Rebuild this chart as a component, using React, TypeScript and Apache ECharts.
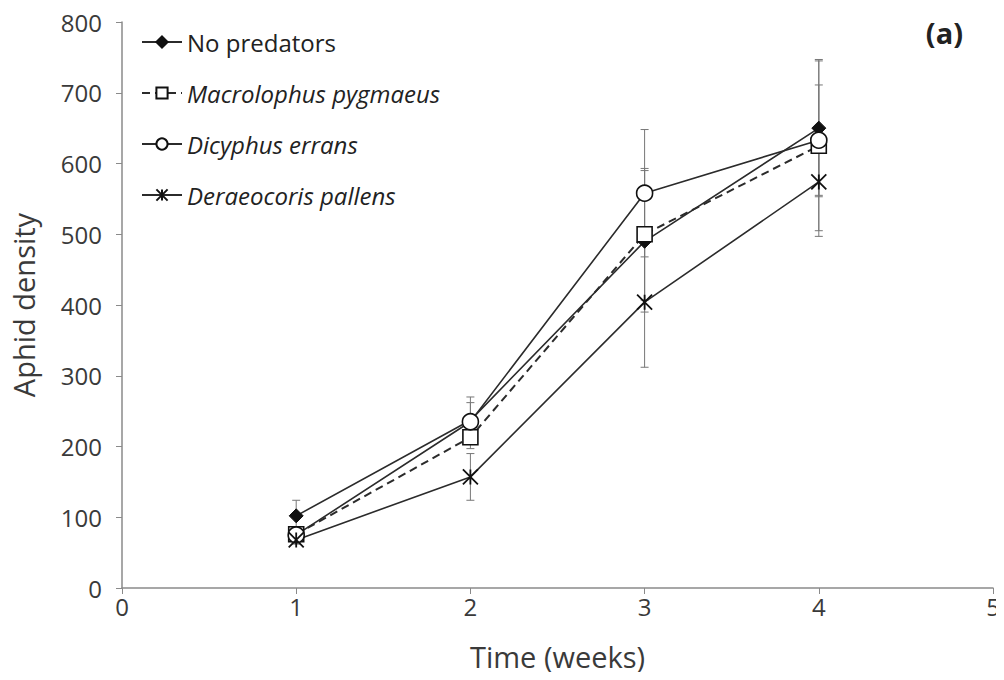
import React, { useEffect, useRef } from "react";
import * as echarts from "echarts";

const weeks = [1, 2, 3, 4];
const seriesNames = ["No predators", "Macrolophus pygmaeus", "Dicyphus errans", "Deraeocoris pallens"];
const noPredators = [102, 237, 490, 650];
const noPredatorsErr = [22, 33, 100, 97];
const macrolophus = [76, 213, 500, 625];
const macrolophusErr = [8, 16, 93, 120];
const dicyphus = [75, 235, 558, 633];
const dicyphusErr = [8, 27, 90, 78];
const deraeocoris = [68, 157, 404, 574];
const deraeocorisErr = [6, 33, 92, 77];
const xTicks = [0, 5, 1];
const yTicks = [0, 800, 100];

const FONT = "Open Sans";
const LINE = "#2b2b2b";
const ASTERISK = "path://M0,0L10,10M10,0L0,10M5,0L5,10";

function errData(vals: number[], errs: number[]) {
  return weeks.map((w, i) => [w, vals[i] - errs[i], vals[i] + errs[i]]);
}

function errSeries(vals: number[], errs: number[]) {
  return {
    type: "custom",
    silent: true,
    z: 1,
    data: errData(vals, errs),
    renderItem: (params: any, api: any) => {
      const x = api.value(0);
      const lo = api.value(1);
      const hi = api.value(2);
      const pHi = api.coord([x, hi]);
      const pLo = api.coord([x, lo]);
      const w = 4;
      const st = { stroke: "#777", lineWidth: 1 };
      return {
        type: "group",
        children: [
          { type: "line", shape: { x1: pHi[0], y1: pHi[1], x2: pLo[0], y2: pLo[1] }, style: st },
          { type: "line", shape: { x1: pHi[0] - w, y1: pHi[1], x2: pHi[0] + w, y2: pHi[1] }, style: st },
          { type: "line", shape: { x1: pLo[0] - w, y1: pLo[1], x2: pLo[0] + w, y2: pLo[1] }, style: st },
        ],
      };
    },
  };
}

function pts(vals: number[]) {
  return weeks.map((w, i) => [w, vals[i]]);
}

export default function App() {
  const ref = useRef<HTMLDivElement>(null);
  useEffect(() => {
    if (!ref.current) return;
    const chart = echarts.init(ref.current, undefined, { renderer: "svg" });
    const axisLabel = { fontFamily: FONT, fontSize: 24, color: "#3a3a3a" };
    chart.setOption({
      animation: false,
      backgroundColor: "#ffffff",
      grid: { left: 122, right: 11, top: 22, bottom: 92 },
      xAxis: {
        type: "value",
        min: xTicks[0],
        max: xTicks[1],
        interval: xTicks[2],
        name: "Time (weeks)",
        nameLocation: "middle",
        nameGap: 54,
        nameTextStyle: { fontFamily: FONT, fontSize: 29, color: "#3a3a3a" },
        axisLine: { lineStyle: { color: "#8a8a8a", width: 1.5 } },
        axisTick: { show: true, length: 6, lineStyle: { color: "#8a8a8a" } },
        axisLabel: { ...axisLabel, margin: 6 },
        splitLine: { show: false },
      },
      yAxis: {
        type: "value",
        min: yTicks[0],
        max: yTicks[1],
        interval: yTicks[2],
        name: "Aphid density",
        nameLocation: "middle",
        nameGap: 84,
        nameRotate: 90,
        nameTextStyle: { fontFamily: FONT, fontSize: 29, color: "#3a3a3a" },
        axisLine: { show: true, lineStyle: { color: "#8a8a8a", width: 1.5 } },
        axisTick: { show: true, length: 6, lineStyle: { color: "#8a8a8a" } },
        axisLabel: { ...axisLabel, margin: 20 },
        splitLine: { show: false },
      },
      legend: {
        orient: "vertical",
        left: 136,
        top: 25,
        itemGap: 27,
        itemWidth: 40,
        itemHeight: 14,
        data: seriesNames,
        formatter: (name: string) => (name === "No predators" ? name : `{i|${name}}`),
        textStyle: {
          fontFamily: FONT,
          fontSize: 24,
          color: "#222",
          rich: { i: { fontFamily: FONT, fontSize: 24, fontStyle: "italic", color: "#222" } },
        },
      },
      graphic: [
        {
          type: "text",
          right: 41,
          top: 18,
          style: { text: "(a)", fontFamily: FONT, fontSize: 29, fontWeight: "bold", fill: "#222" },
        },
      ],
      series: [
        errSeries(noPredators, noPredatorsErr),
        errSeries(macrolophus, macrolophusErr),
        errSeries(dicyphus, dicyphusErr),
        errSeries(deraeocoris, deraeocorisErr),
        {
          name: seriesNames[0],
          type: "line",
          z: 3,
          data: pts(noPredators),
          symbol: "diamond",
          symbolSize: 14,
          lineStyle: { color: LINE, width: 1.6 },
          itemStyle: { color: "#111", borderColor: "#111", borderWidth: 1 },
        },
        {
          name: seriesNames[1],
          type: "line",
          z: 3,
          data: pts(macrolophus),
          symbol: "rect",
          symbolSize: 15,
          lineStyle: { color: LINE, width: 2, type: [8, 5] },
          itemStyle: { color: "#fff", borderColor: "#111", borderWidth: 1.6 },
        },
        {
          name: seriesNames[2],
          type: "line",
          z: 3,
          data: pts(dicyphus),
          symbol: "circle",
          symbolSize: 16,
          lineStyle: { color: LINE, width: 1.6 },
          itemStyle: { color: "#fff", borderColor: "#111", borderWidth: 1.6 },
        },
        {
          name: seriesNames[3],
          type: "line",
          z: 3,
          data: pts(deraeocoris),
          symbol: ASTERISK,
          symbolSize: 15,
          lineStyle: { color: LINE, width: 1.6 },
          itemStyle: { color: "#111", borderColor: "#111", borderWidth: 1.8 },
        },
      ],
    });
    return () => chart.dispose();
  }, []);
  return <div ref={ref} style={{ width: 1004, height: 680, margin: -8 }} />;
}
